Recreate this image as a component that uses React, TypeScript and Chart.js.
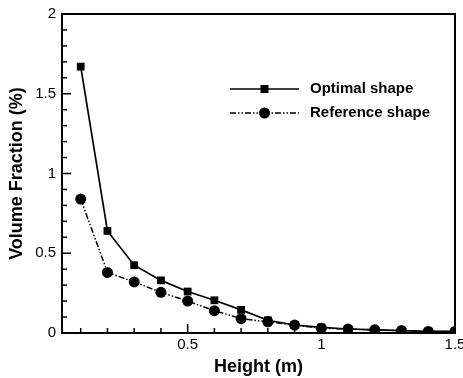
import React, { useEffect, useRef } from "react";
import { Chart, registerables } from "chart.js";

Chart.register(...registerables);

const heights = [0.1, 0.2, 0.3, 0.4, 0.5, 0.6, 0.7, 0.8, 0.9, 1.0, 1.1, 1.2, 1.3, 1.4, 1.5];
const optimalShape = [1.67, 0.64, 0.425, 0.33, 0.26, 0.205, 0.145, 0.08, 0.05, 0.035, 0.025, 0.02, 0.015, 0.01, 0.01];
const referenceShape = [0.84, 0.38, 0.32, 0.255, 0.2, 0.14, 0.09, 0.07, 0.05, 0.03, 0.025, 0.02, 0.015, 0.01, 0.01];
const xTickValues = [0.1, 0.2, 0.3, 0.4, 0.5, 0.6, 0.7, 0.8, 0.9, 1.0, 1.1, 1.2, 1.3, 1.4, 1.5];
const xMajorLabels = ["0.5", "1", "1.5"];
const yTickValues = [0, 0.1, 0.2, 0.3, 0.4, 0.5, 0.6, 0.7, 0.8, 0.9, 1.0, 1.1, 1.2, 1.3, 1.4, 1.5, 1.6, 1.7, 1.8, 1.9, 2.0];
const yMajorLabels = ["0", "0.5", "1", "1.5", "2"];
const seriesNames = ["Optimal shape", "Reference shape"];

const REF_DASH = [6, 2, 1.5, 2, 1.5, 2];

const fmt = (v: number) => String(Math.round(v * 10) / 10);

const framePlugin = {
  id: "frame",
  afterDraw(chart: any) {
    const { ctx, chartArea: a, scales } = chart;
    const xs = scales.x;
    const ys = scales.y;
    ctx.save();
    ctx.strokeStyle = "#000";
    ctx.lineWidth = 1.5;
    xTickValues.forEach((v) => {
      const px = xs.getPixelForValue(v);
      const major = xMajorLabels.includes(fmt(v));
      ctx.beginPath();
      ctx.moveTo(px, a.bottom);
      ctx.lineTo(px, a.bottom - (major ? 9 : 5));
      ctx.stroke();
    });
    yTickValues.forEach((v) => {
      const py = ys.getPixelForValue(v);
      const major = yMajorLabels.includes(fmt(v));
      ctx.beginPath();
      ctx.moveTo(a.left, py);
      ctx.lineTo(a.left + (major ? 9 : 5), py);
      ctx.stroke();
    });
    ctx.lineWidth = 2;
    ctx.strokeRect(a.left, a.top, a.right - a.left, a.bottom - a.top);

    // legend
    const lx0 = a.left + 168;
    const lx1 = a.left + 237;
    const rows = [a.top + 75, a.top + 99];
    ctx.font = "bold 15px 'Liberation Sans', Arial, sans-serif";
    ctx.textBaseline = "middle";
    ctx.fillStyle = "#000";
    rows.forEach((ly, i) => {
      ctx.lineWidth = 1.5;
      ctx.setLineDash(i === 0 ? [] : REF_DASH);
      ctx.beginPath();
      ctx.moveTo(lx0, ly);
      ctx.lineTo(lx1, ly);
      ctx.stroke();
      ctx.setLineDash([]);
      const mx = (lx0 + lx1) / 2;
      if (i === 0) {
        ctx.fillRect(mx - 4, ly - 4, 8, 8);
      } else {
        ctx.beginPath();
        ctx.arc(mx, ly, 5.5, 0, Math.PI * 2);
        ctx.fill();
      }
      ctx.fillText(seriesNames[i], lx1 + 11, ly);
    });
    ctx.restore();
  },
};

export default function App() {
  const ref = useRef<HTMLCanvasElement | null>(null);
  useEffect(() => {
    if (!ref.current) return;
    const chart = new Chart(ref.current, {
      type: "line",
      data: {
        datasets: [
          {
            label: seriesNames[0],
            data: heights.map((h, i) => ({ x: h, y: optimalShape[i] })),
            borderColor: "#000",
            backgroundColor: "#000",
            borderWidth: 1.7,
            pointStyle: "rect",
            pointRadius: 5.5,
            pointBorderWidth: 0,
            tension: 0,
          },
          {
            label: seriesNames[1],
            data: heights.map((h, i) => ({ x: h, y: referenceShape[i] })),
            borderColor: "#000",
            backgroundColor: "#000",
            borderWidth: 1.5,
            borderDash: REF_DASH,
            pointStyle: "circle",
            pointRadius: 5.5,
            pointBorderWidth: 0,
            tension: 0,
          },
        ],
      },
      options: {
        animation: false,
        responsive: true,
        maintainAspectRatio: false,
        layout: { padding: { top: 14, right: 8, left: 0, bottom: 0 } },
        plugins: { legend: { display: false }, tooltip: { enabled: false } },
        scales: {
          x: {
            type: "linear",
            min: 0.03,
            max: 1.5,
            afterBuildTicks: (s: any) => {
              s.ticks = xTickValues.map((v) => ({ value: v }));
            },
            afterFit: (s: any) => {
              s.height = 45;
              s.paddingLeft = 0;
              s.paddingRight = 0;
            },
            grid: { display: false, drawTicks: false },
            border: { display: false },
            ticks: {
              autoSkip: false,
              maxRotation: 0,
              padding: 3,
              color: "#000",
              font: { family: "'Liberation Sans', Arial, sans-serif", size: 15 },
              callback: (v: any) => (xMajorLabels.includes(fmt(v)) ? fmt(v) : ""),
            },
            title: {
              display: true,
              text: "Height (m)",
              color: "#000",
              font: { family: "'Liberation Sans', Arial, sans-serif", size: 18, weight: "bold" },
              padding: { top: 4, bottom: 0 },
            },
          },
          y: {
            type: "linear",
            min: 0,
            max: 2,
            afterBuildTicks: (s: any) => {
              s.ticks = yTickValues.map((v) => ({ value: v }));
            },
            afterFit: (s: any) => {
              s.width = 62;
              s.paddingTop = 0;
              s.paddingBottom = 0;
            },
            grid: { display: false, drawTicks: false },
            border: { display: false },
            ticks: {
              autoSkip: false,
              padding: 6,
              color: "#000",
              font: { family: "'Liberation Sans', Arial, sans-serif", size: 15 },
              callback: (v: any) => (yMajorLabels.includes(fmt(v)) ? fmt(v) : ""),
            },
            title: {
              display: true,
              text: "Volume Fraction (%)",
              color: "#000",
              font: { family: "'Liberation Sans', Arial, sans-serif", size: 18, weight: "bold" },
              padding: { top: 6, bottom: 0 },
            },
          },
        },
      },
      plugins: [framePlugin],
    } as any);
    return () => chart.destroy();
  }, []);
  return (
    <div style={{ position: "absolute", left: 0, top: 0, width: 463, height: 378, background: "#fff" }}>
      <canvas ref={ref} />
    </div>
  );
}
